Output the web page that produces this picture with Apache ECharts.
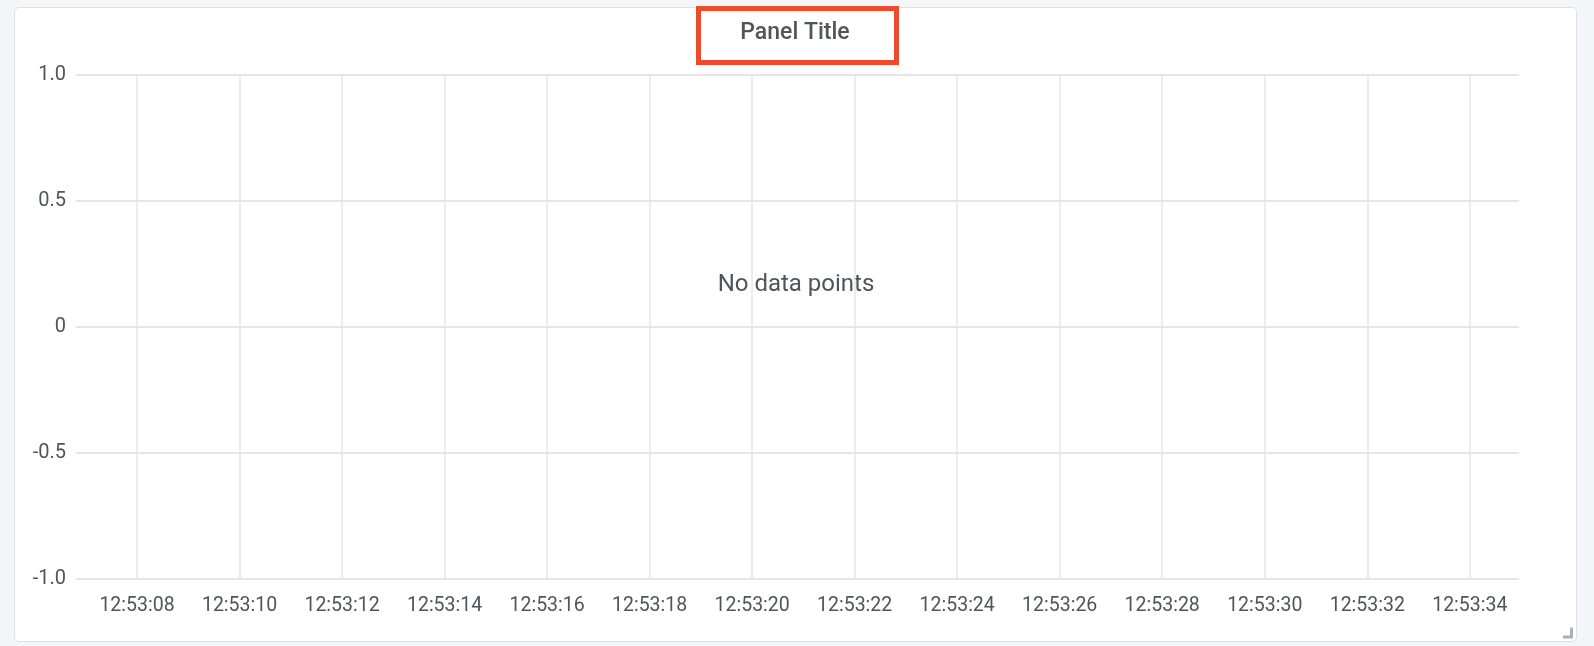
<!DOCTYPE html>
<html>
<head>
<meta charset="utf-8">
<script src="https://cdn.jsdelivr.net/npm/echarts@6/dist/echarts.min.js"></script>
<style>
  html, body { margin: 0; padding: 0; background: #f4f5f8; }
  #panel {
    position: absolute; left: 14px; top: 7px; width: 1563px; height: 635px;
    background: #ffffff; border: 1px solid #dde1e7; border-radius: 5px; box-sizing: border-box;
  }
  #chart { position: absolute; left: 0; top: 0; width: 1594px; height: 646px; }
</style>
</head>
<body>
<div id="panel"></div>
<div id="chart"></div>
<script>
// ---- data ----
const panelTitle = 'Panel Title';
const emptyMessage = 'No data points';
// time window shown (seconds after 12:53:00)
const timeBaseLabel = '12:53';
const timeRange = [6.81, 34.96];
const timeTickStep = 2;          // a tick every 2 s: 12:53:08 ... 12:53:34
// y axis
const yRange = [-1, 1];
const yTickStep = 0.5;           // ticks: -1.0, -0.5, 0, 0.5, 1.0
// series (none: "No data points")
const seriesTimes = [];
const seriesValues = [];

const textColor = '#52545c';
const gridColor = '#e6e6e6';

function pad2(n) { return (n < 10 ? '0' : '') + n; }

const chart = echarts.init(document.getElementById('chart'), null, { renderer: 'canvas' });
chart.setOption({
  backgroundColor: 'transparent',
  animation: false,
  grid: { left: 76, right: 75, top: 75, bottom: 67, containLabel: false },
  xAxis: {
    type: 'value',
    min: timeRange[0],
    max: timeRange[1],
    minInterval: timeTickStep,
    maxInterval: timeTickStep,
    splitNumber: 14,
    axisLine: { show: false },
    axisTick: { show: false },
    axisLabel: {
      show: true,
      showMinLabel: false,
      showMaxLabel: false,
      margin: 17,
      color: textColor,
      fontFamily: 'Roboto',
      fontSize: 19.5,
      formatter: function (v) { return timeBaseLabel + ':' + pad2(Math.round(v)); }
    },
    splitLine: {
      show: true,
      showMinLine: false,
      showMaxLine: false,
      lineStyle: { color: gridColor, width: 1.5 }
    }
  },
  yAxis: {
    type: 'value',
    min: yRange[0],
    max: yRange[1],
    interval: yTickStep,
    axisLine: { show: false },
    axisTick: { show: false },
    axisLabel: {
      margin: 10,
      color: textColor,
      fontFamily: 'Roboto',
      fontSize: 20,
      formatter: function (v) { return v === 0 ? '0' : v.toFixed(1); }
    },
    splitLine: { show: true, lineStyle: { color: gridColor, width: 2 } }
  },
  series: [{
    type: 'line',
    data: seriesTimes.map(function (t, i) { return [t, seriesValues[i]]; }),
    showSymbol: false
  }],
  graphic: [
    {
      type: 'rect',
      shape: { x: 698.5, y: 8.5, width: 198, height: 54 },
      style: { fill: 'none', stroke: '#ee4a2b', lineWidth: 5 },
      silent: true
    },
    {
      type: 'text',
      x: 795, y: 33.5,
      style: {
        text: panelTitle, fill: textColor, font: '500 23px Roboto',
        align: 'center', verticalAlign: 'middle'
      },
      silent: true
    },
    {
      type: 'text',
      x: 796, y: 284.5,
      style: {
        text: emptyMessage, fill: textColor, font: '24px Roboto',
        align: 'center', verticalAlign: 'middle'
      },
      silent: true
    },
    {
      type: 'polyline',
      shape: { points: [[1563, 637], [1571.5, 637], [1571.5, 627.5]] },
      style: { stroke: '#a9b0b8', lineWidth: 3, fill: 'none' },
      silent: true
    }
  ]
});
</script>
</body>
</html>
